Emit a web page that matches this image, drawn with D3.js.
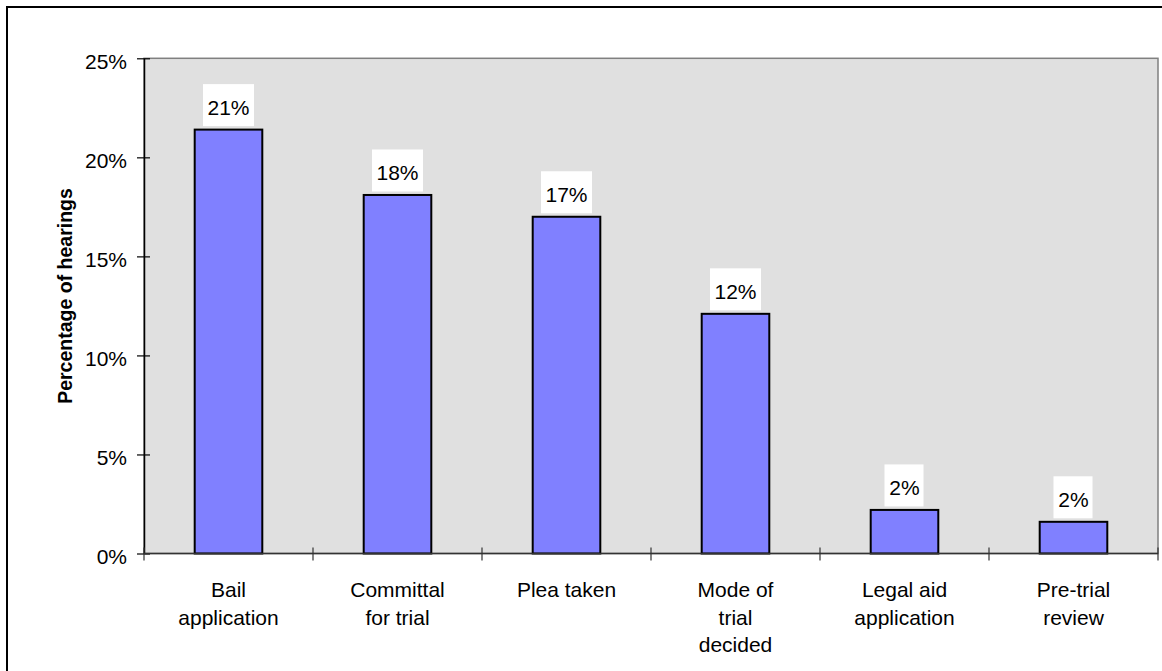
<!DOCTYPE html>
<html>
<head>
<meta charset="utf-8">
<script src="https://cdn.jsdelivr.net/npm/d3@7"></script>
<style>
  html, body { margin: 0; padding: 0; background: #ffffff; }
  svg { display: block; font-family: "Liberation Sans", Arial, sans-serif; }
</style>
</head>
<body>
<svg id="chart" width="1162" height="671"></svg>
<script>
// Hearing types (label lines) and their share of hearings (%)
const categories = [
  ["Bail", "application"],
  ["Committal", "for trial"],
  ["Plea taken"],
  ["Mode of", "trial", "decided"],
  ["Legal aid", "application"],
  ["Pre-trial", "review"]
];
const values = [21.4, 18.1, 17.0, 12.1, 2.2, 1.6];
const valueLabels = ["21%", "18%", "17%", "12%", "2%", "2%"];
const yTicks = [0, 5, 10, 15, 20, 25];
const yTitle = "Percentage of hearings";

const svg = d3.select("#chart");
const plot = { left: 144, right: 1158, top: 58.3, bottom: 553.5 };

// outer frame (runs past the right and bottom edges)
svg.append("rect")
  .attr("x", 7).attr("y", 7)
  .attr("width", 1300).attr("height", 800)
  .attr("fill", "#ffffff")
  .attr("stroke", "#000").attr("stroke-width", 2);

const x = d3.scaleBand()
  .domain(d3.range(categories.length))
  .range([plot.left, plot.right])
  .padding(0);

const y = d3.scaleLinear()
  .domain([0, 25])
  .range([plot.bottom, plot.top]);

// plot background with grey top/right edge
svg.append("rect")
  .attr("x", plot.left).attr("y", plot.top)
  .attr("width", plot.right - plot.left)
  .attr("height", plot.bottom - plot.top)
  .attr("fill", "#e0e0e0")
  .attr("stroke", "#808080").attr("stroke-width", 1.5);

// bars
const barW = x.bandwidth() * 0.4;
svg.append("g").selectAll("rect")
  .data(values)
  .join("rect")
  .attr("x", (d, i) => x(i) + (x.bandwidth() - barW) / 2)
  .attr("y", d => y(d))
  .attr("width", barW)
  .attr("height", d => y(0) - y(d))
  .attr("fill", "#8080ff")
  .attr("stroke", "#000")
  .attr("stroke-width", 2);

// value labels on white boxes
const lbl = svg.append("g").selectAll("g")
  .data(values)
  .join("g")
  .attr("transform", (d, i) => `translate(${x(i) + x.bandwidth() / 2},${y(d)})`);
lbl.append("rect")
  .attr("x", (d, i) => valueLabels[i].length === 3 ? -25.5 : -20)
  .attr("y", -45.5)
  .attr("width", (d, i) => valueLabels[i].length === 3 ? 51 : 39)
  .attr("height", 42)
  .attr("fill", "#ffffff");
lbl.append("text")
  .attr("y", -15)
  .attr("text-anchor", "middle")
  .attr("font-size", 21)
  .attr("fill", "#000")
  .text((d, i) => valueLabels[i]);

// y axis
const yAxis = d3.axisLeft(y)
  .tickValues(yTicks)
  .tickFormat(d => d + "%")
  .tickSizeInner(7)
  .tickSizeOuter(0)
  .tickPadding(10);
const gy = svg.append("g")
  .attr("transform", `translate(${plot.left},0)`)
  .call(yAxis);
gy.select(".domain").attr("stroke", "#000").attr("stroke-width", 1.5);
gy.selectAll(".tick line").clone().attr("x2", 6);
gy.selectAll(".tick line").attr("stroke", "#000").attr("stroke-width", 1.2);
gy.selectAll(".tick text")
  .attr("font-size", 21)
  .attr("font-family", "'Liberation Sans', Arial, sans-serif")
  .attr("fill", "#000")
  .attr("dy", null)
  .attr("y", 10);

// x axis with ticks at category boundaries
svg.append("line")
  .attr("x1", plot.left).attr("x2", plot.right)
  .attr("y1", plot.bottom).attr("y2", plot.bottom)
  .attr("stroke", "#333").attr("stroke-width", 1.5);
const bounds = d3.range(categories.length + 1).map(i =>
  i < categories.length ? x(i) : x(i - 1) + x.bandwidth());
svg.append("g").selectAll("line")
  .data(bounds)
  .join("line")
  .attr("x1", d => d).attr("x2", d => d)
  .attr("y1", plot.bottom - 6).attr("y2", plot.bottom + 7)
  .attr("stroke", "#333").attr("stroke-width", 1.2);

// category labels
const catText = svg.append("g").selectAll("text")
  .data(categories)
  .join("text")
  .attr("text-anchor", "middle")
  .attr("font-size", 21)
  .attr("fill", "#000")
  .attr("transform", (d, i) => `translate(${x(i) + x.bandwidth() / 2},597)`);
catText.selectAll("tspan")
  .data(d => d)
  .join("tspan")
  .attr("x", 0)
  .attr("y", (d, j) => j * 27.5)
  .text(d => d);

// y title
svg.append("text")
  .attr("transform", "translate(72,296) rotate(-90)")
  .attr("text-anchor", "middle")
  .attr("font-size", 19.5)
  .attr("font-weight", "bold")
  .attr("fill", "#000")
  .text(yTitle);
</script>
</body>
</html>
